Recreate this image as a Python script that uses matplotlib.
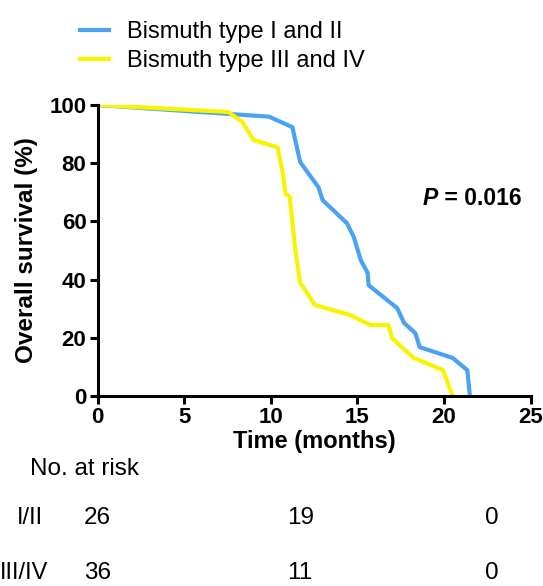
import matplotlib
matplotlib.use("Agg")
import matplotlib.pyplot as plt
from matplotlib.transforms import blended_transform_factory

# Kaplan-Meier curves (months, % survival)
t_early = [0, 9.9, 11.25, 11.7, 12.75, 13.0, 14.4, 14.8, 15.2, 15.6, 15.65,
           17.3, 17.7, 18.35, 18.6, 20.5, 21.35, 21.5]
s_early = [100, 96, 92.4, 80.4, 71.8, 67.3, 59.4, 54.6, 46.7, 42.3, 38.1,
           30.2, 25.1, 21.6, 16.8, 13.1, 8.9, 0]
t_late = [0, 7.55, 8.35, 9.0, 10.4, 10.7, 10.85, 11.1, 11.4, 11.7, 11.8,
          12.55, 14.6, 15.75, 16.8, 17.0, 18.25, 19.95, 20.5]
s_late = [100, 97.6, 94.2, 88.0, 85.4, 76.6, 69.5, 68.4, 51.2, 38.8, 38.1,
          31.3, 27.8, 24.4, 24.4, 19.9, 13.1, 8.9, 0]

series_labels = ["Bismuth type I and II", "Bismuth type III and IV"]
series_colors = ["#4ba2f2", "#f8f400"]

risk_groups = ["I/II", "III/IV"]
risk_times = [0, 11.7, 22.75]
risk_counts = [[26, 19, 0], [36, 11, 0]]

plt.rcParams["font.family"] = ["Liberation Sans", "DejaVu Sans"]

fig = plt.figure(figsize=(5.43, 5.86), dpi=100)
ax = fig.add_axes([0.1796, 0.3242, 0.7974, 0.4966])

for t, s, lab, col in zip([t_early, t_late], [s_early, s_late], series_labels, series_colors):
    ax.plot(t, s, color=col, lw=3, label=lab, solid_joinstyle="round")

ax.set_xlim(0, 25)
ax.set_ylim(0, 100)
ax.set_xticks(range(0, 26, 5))
ax.set_yticks(range(0, 101, 20))
for side in ("top", "right"):
    ax.spines[side].set_visible(False)
for side in ("left", "bottom"):
    ax.spines[side].set_linewidth(2.2)
ax.tick_params(width=2.2, length=6, labelsize=16, pad=2)
for lbl in ax.get_xticklabels() + ax.get_yticklabels():
    lbl.set_fontweight("bold")

ax.set_xlabel("Time (months)", fontsize=17, fontweight="bold", labelpad=1)
ax.set_ylabel("Overall survival (%)", fontsize=17.5, fontweight="bold", labelpad=8)

p = ax.text(18.75, 68, "P", fontsize=16.5, fontweight="bold", style="italic",
            ha="left", va="center")
ax.annotate(" = 0.016", xy=(1, 0.5), xycoords=p, fontsize=16.5, fontweight="bold",
            ha="left", va="center")

fig.legend(loc="upper left", bbox_to_anchor=(0.108, 1.0), frameon=False,
           fontsize=17, handlelength=1.25, handletextpad=0.75, labelspacing=0.3)

# number at risk table
fig.text(0.055, 0.199, "No. at risk", fontsize=17.5, va="center", ha="left")
row_y = [0.116, 0.022]
group_x = [0.031, 0.0]
tr = blended_transform_factory(ax.transData, fig.transFigure)
for g, gx, counts, y in zip(risk_groups, group_x, risk_counts, row_y):
    fig.text(gx, y, g, fontsize=17, va="center", ha="left")
    for tx, c in zip(risk_times, counts):
        ax.text(tx, y, str(c), fontsize=17.5, va="center", ha="center", transform=tr)

fig.savefig("out.png", dpi=100)
